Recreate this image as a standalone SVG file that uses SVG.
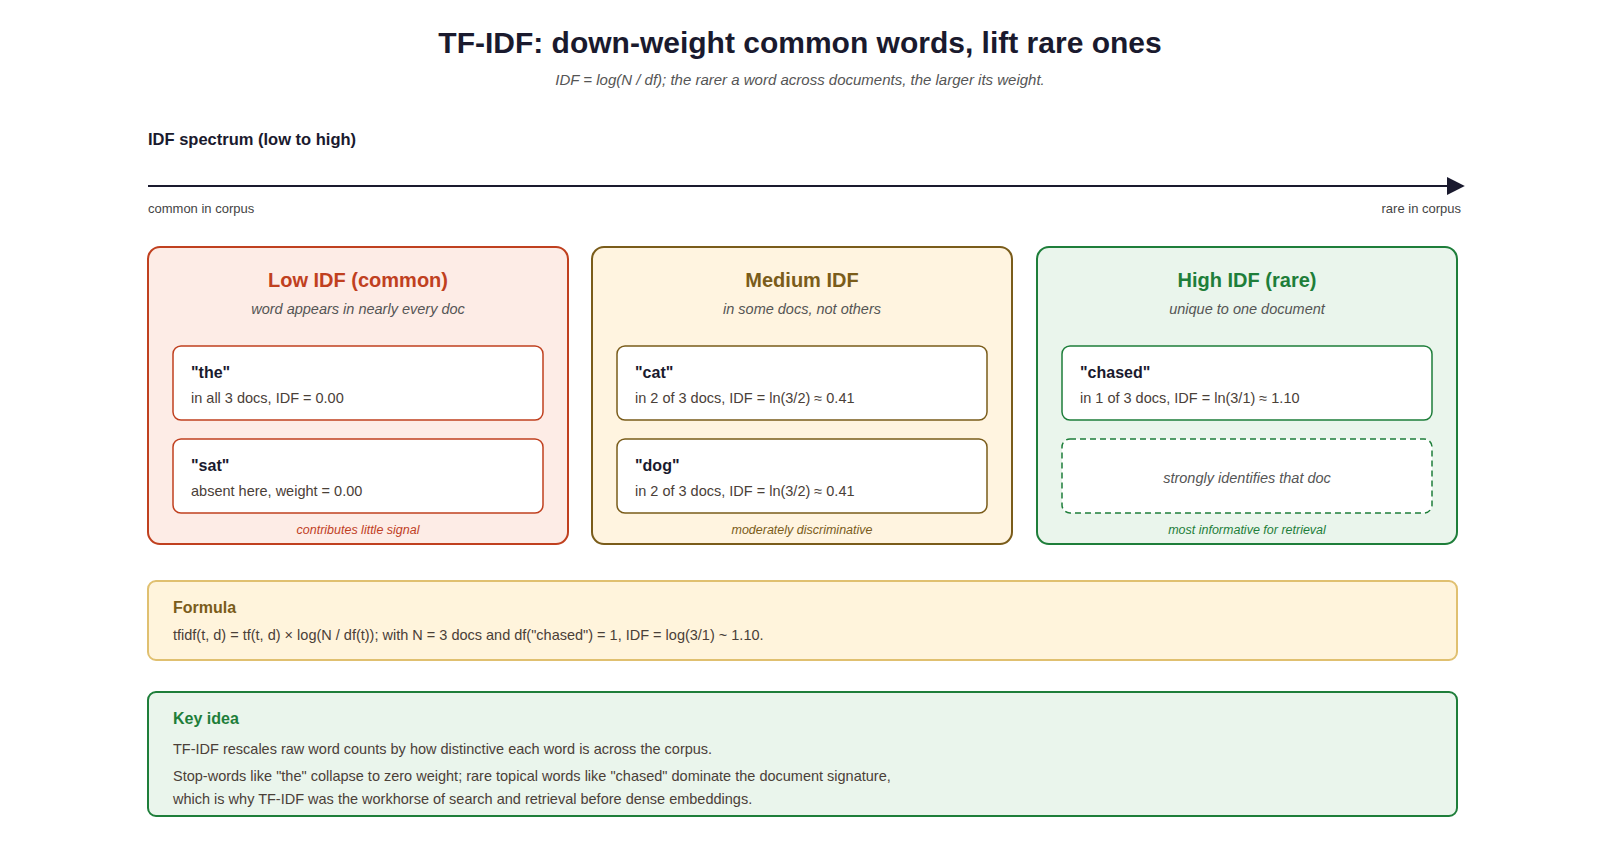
<svg xmlns="http://www.w3.org/2000/svg" width="1600" height="862" viewBox="0 0 1600 862">
<style>
text{font-family:"Liberation Sans",Arial,sans-serif}
.t{font-size:30px;font-weight:bold;fill:#1a1a2e;text-anchor:middle}
.sub{font-size:15px;font-style:italic;fill:#555;text-anchor:middle}
.h{font-size:20px;font-weight:bold;text-anchor:middle}
.hs{font-size:14.5px;font-style:italic;fill:#555;text-anchor:middle}
.w{font-size:16px;font-weight:bold;fill:#1a1a2e}
.d{font-size:14.5px;fill:#4a4038}
.f{font-size:12.5px;font-style:italic;text-anchor:middle}
.inner{fill:#fff;stroke-width:1.5}
.sm{font-size:13px;fill:#444}
</style>
<defs><marker id="ar" viewBox="0 0 10 10" refX="9" refY="5" markerWidth="18" markerHeight="18" markerUnits="userSpaceOnUse" orient="auto"><path d="M0,0L10,5L0,10z" fill="#1a1a2e"/></marker></defs>
<rect width="1600" height="862" fill="#fff"/>
<text class="t" x="800" y="53">TF-IDF: down-weight common words, lift rare ones</text>
<text class="sub" x="800" y="85">IDF = log(N / df); the rarer a word across documents, the larger its weight.</text>
<text x="148" y="145" font-size="16.5" font-weight="bold" fill="#1a1a2e">IDF spectrum (low to high)</text>
<g id="connectors"><line x1="148" y1="186" x2="1463" y2="186" stroke="#1a1a2e" stroke-width="2" marker-end="url(#ar)"/></g>
<text class="sm" x="148" y="213">common in corpus</text>
<text class="sm" x="1461" y="213" text-anchor="end">rare in corpus</text>
<g id="low">
<rect x="148" y="247" width="420" height="297" rx="12" fill="#fdece6" stroke="#c0401f" stroke-width="2"/>
<text class="h" x="358" y="287" fill="#c0401f">Low IDF (common)</text>
<text class="hs" x="358" y="314">word appears in nearly every doc</text>
<rect class="inner" x="173" y="346" width="370" height="74" rx="8" stroke="#c0401f"/>
<text class="w" x="191" y="378">"the"</text><text class="d" x="191" y="403">in all 3 docs, IDF = 0.00</text>
<rect class="inner" x="173" y="439" width="370" height="74" rx="8" stroke="#c0401f"/>
<text class="w" x="191" y="471">"sat"</text><text class="d" x="191" y="496">absent here, weight = 0.00</text>
<text class="f" x="358" y="534" fill="#c0401f">contributes little signal</text>
</g>
<g id="medium">
<rect x="592" y="247" width="420" height="297" rx="12" fill="#fff4e0" stroke="#7a5c1a" stroke-width="2"/>
<text class="h" x="802" y="287" fill="#7a5c1a">Medium IDF</text>
<text class="hs" x="802" y="314">in some docs, not others</text>
<rect class="inner" x="617" y="346" width="370" height="74" rx="8" stroke="#7a5c1a"/>
<text class="w" x="635" y="378">"cat"</text><text class="d" x="635" y="403">in 2 of 3 docs, IDF = ln(3/2) ≈ 0.41</text>
<rect class="inner" x="617" y="439" width="370" height="74" rx="8" stroke="#7a5c1a"/>
<text class="w" x="635" y="471">"dog"</text><text class="d" x="635" y="496">in 2 of 3 docs, IDF = ln(3/2) ≈ 0.41</text>
<text class="f" x="802" y="534" fill="#7a5c1a">moderately discriminative</text>
</g>
<g id="high">
<rect x="1037" y="247" width="420" height="297" rx="12" fill="#eaf5ec" stroke="#1e7e3a" stroke-width="2"/>
<text class="h" x="1247" y="287" fill="#1e7e3a">High IDF (rare)</text>
<text class="hs" x="1247" y="314">unique to one document</text>
<rect class="inner" x="1062" y="346" width="370" height="74" rx="8" stroke="#1e7e3a"/>
<text class="w" x="1080" y="378">"chased"</text><text class="d" x="1080" y="403">in 1 of 3 docs, IDF = ln(3/1) ≈ 1.10</text>
<rect class="inner" x="1062" y="439" width="370" height="74" rx="8" stroke="#1e7e3a" stroke-dasharray="6 4"/>
<text class="hs" x="1247" y="483">strongly identifies that doc</text>
<text class="f" x="1247" y="534" fill="#1e7e3a">most informative for retrieval</text>
</g>
<g id="formula">
<rect x="148" y="581" width="1309" height="79" rx="8" fill="#fff4dc" stroke="#e0c070" stroke-width="2"/>
<text x="173" y="613" font-size="16" font-weight="bold" fill="#7a5c1a">Formula</text>
<text class="d" x="173" y="640" fill="#222">tfidf(t, d) = tf(t, d) × log(N / df(t)); with N = 3 docs and df("chased") = 1, IDF = log(3/1) ~ 1.10.</text>
</g>
<g id="key">
<rect x="148" y="692" width="1309" height="124" rx="8" fill="#eaf5ec" stroke="#1e7e3a" stroke-width="2"/>
<text x="173" y="724" font-size="16" font-weight="bold" fill="#1e7e3a">Key idea</text>
<text class="d" x="173" y="754" fill="#222">TF-IDF rescales raw word counts by how distinctive each word is across the corpus.</text>
<text class="d" x="173" y="781" fill="#222">Stop-words like "the" collapse to zero weight; rare topical words like "chased" dominate the document signature,</text>
<text class="d" x="173" y="804" fill="#222">which is why TF-IDF was the workhorse of search and retrieval before dense embeddings.</text>
</g>
</svg>
